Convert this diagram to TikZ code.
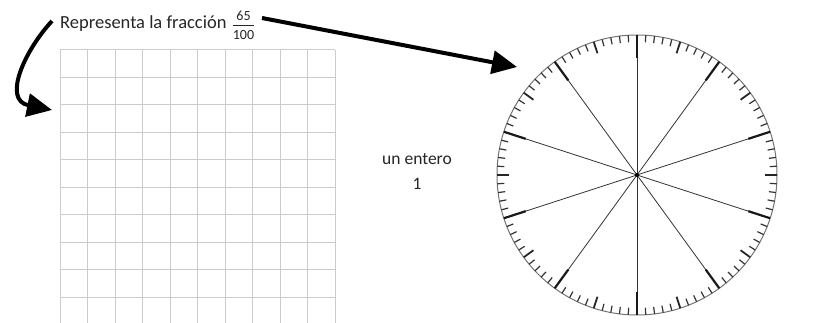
\documentclass[tikz,border=0pt]{standalone}
\usepackage{fontspec}
\setmainfont{Carlito}
\usetikzlibrary{arrows.meta,calc}
\begin{document}
\begin{tikzpicture}[x=1pt,y=-1pt,
  gridline/.style={draw=black!20, line width=1pt},
  bigarrow/.style={line width=4pt, -{Triangle[length=25pt,width=23pt]}},
  rim/.style={draw=black!55, line width=1pt},
  spoke/.style={draw=black!80, line width=0.8pt},
  lbl/.style={font=\fontsize{17.5}{21}\selectfont, text=black!85, inner sep=0pt},
  titlelbl/.style={lbl, font=\fontsize{18.5}{21}\selectfont},
  fraclbl/.style={lbl, font=\fontsize{14}{16}\selectfont, anchor=base}]
\useasboundingbox (0,0) rectangle (817,323);
% title
\node[titlelbl, anchor=base west] (title) at (60,28.3) {Representa la fracción};
\node[fraclbl] (num) at (243.5,21) {65};
\node[fraclbl] (den) at (243.5,39.5) {100};
\draw[line width=0.7pt, black!85] (den.west |- 0,25.5) -- (den.east |- 0,25.5);
% grid
\foreach \i in {0,...,10} {
  \draw[gridline] (60+27.5*\i,50) -- (60+27.5*\i,325);
  \draw[gridline] (60,50+27.5*\i) -- (335,50+27.5*\i);
}
\coordinate (gridtarget) at (52,110);
% circle
\coordinate (c) at (637,175);
\draw[rim] (c) circle[radius=140];
\foreach \k in {0,...,9} \draw[spoke] (c) -- ++({90-36*\k}:{-140});
\foreach \k in {0,...,99} {
  \pgfmathsetmacro{\ang}{90-3.6*\k}
  \pgfmathtruncatemacro{\mten}{mod(\k,10)}
  \pgfmathtruncatemacro{\mfive}{mod(\k,5)}
  \ifnum\mten=0
    \draw[line width=2.2pt, black!90] ($(c)+(\ang:140)$) -- ($(c)+(\ang:117)$);
  \else\ifnum\mfive=0
    \draw[line width=1.8pt, black!85] ($(c)+(\ang:140)$) -- ($(c)+(\ang:128)$);
  \else
    \draw[line width=1.2pt, black!80] ($(c)+(\ang:140)$) -- ($(c)+(\ang:133)$);
  \fi\fi
}
\fill[black] (c) circle[radius=2];
\coordinate (circletarget) at (517,67);
% label
\node[lbl, anchor=base] (whole) at (417,165) {un entero};
\node[lbl, anchor=base] (one) at (417,190) {1};
% arrows
\coordinate (s1) at (52,21);
\coordinate (s2) at (262,18);
\draw[bigarrow] (s1) .. controls (25,50) and (2,100) .. (gridtarget);
\draw[bigarrow] (s2) -- (circletarget);
\end{tikzpicture}
\end{document}
